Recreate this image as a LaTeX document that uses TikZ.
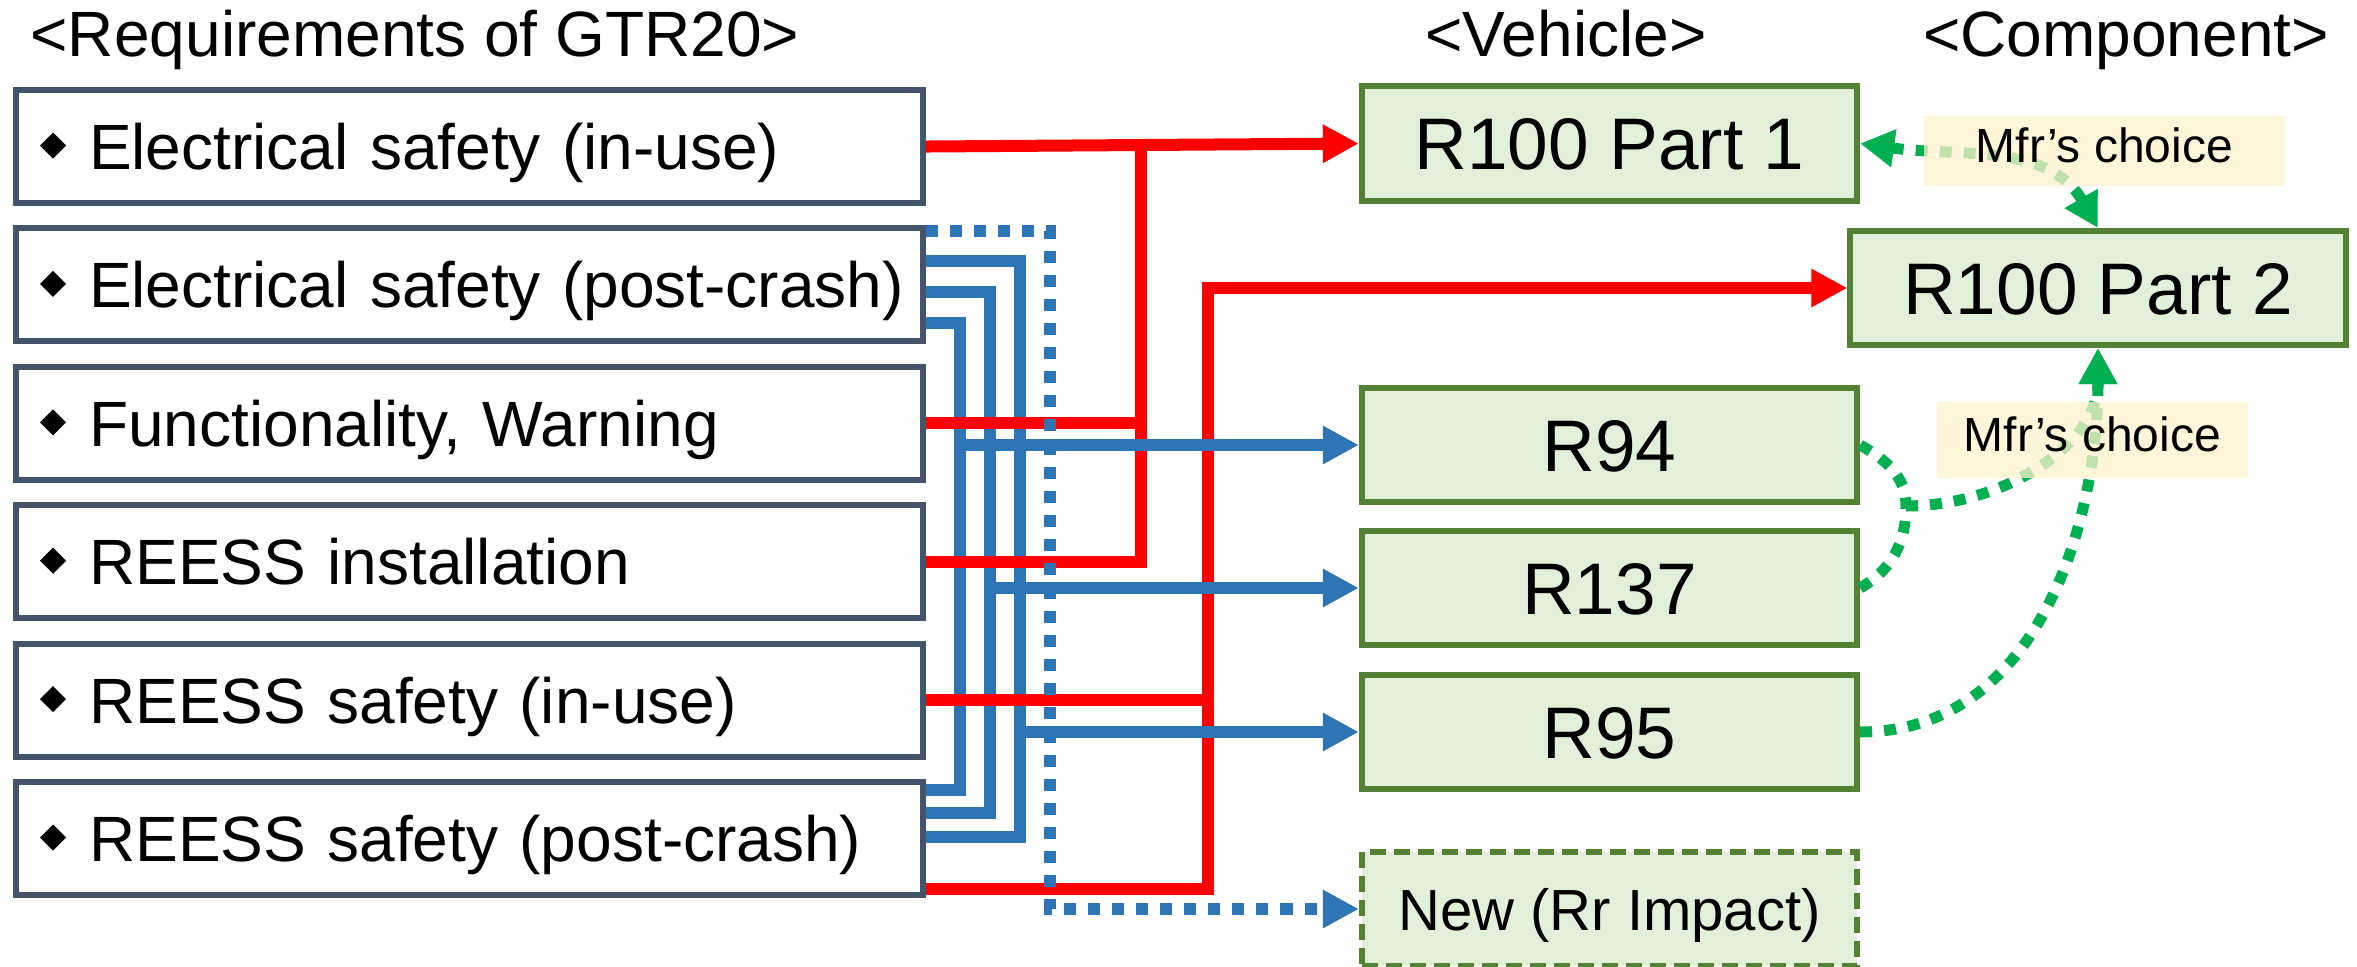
\documentclass[tikz,border=0pt]{standalone}
\usepackage{fontspec}
\setmainfont{Liberation Sans}
\usetikzlibrary{arrows.meta,calc}

\definecolor{reqedge}{HTML}{44546A}
\definecolor{vehedge}{HTML}{548235}
\definecolor{vehfill}{HTML}{E2F0D9}
\definecolor{linkred}{HTML}{FF0000}
\definecolor{linkblue}{HTML}{2E75B6}
\definecolor{choicegreen}{HTML}{00B050}
\definecolor{notefill}{HTML}{FFF2CC}

\newcommand{\reqfont}{\fontsize{0.64cm}{0.74cm}\selectfont}
\newcommand{\vehfont}{\fontsize{0.73cm}{0.84cm}\selectfont}
\newcommand{\newregfont}{\fontsize{0.58cm}{0.68cm}\selectfont}
\newcommand{\notefont}{\fontsize{0.48cm}{0.56cm}\selectfont}
% diamond bullet followed by the requirement text
\newcommand{\reqitem}[1]{\mbox{\raisebox{0.11cm}{\rotatebox{45}{\rule{0.184cm}{0.184cm}}}\hspace{0.23cm}#1}}

\begin{document}
\begin{tikzpicture}[x=0.01cm, y=0.01cm,
  reqbox/.style={draw=reqedge, line width=0.06cm, fill=white, anchor=north west,
    minimum height=1.13cm, text width=8.58cm, inner xsep=0.24cm, inner ysep=0pt,
    align=left, text height=0.46cm, text depth=0pt, font=\reqfont},
  vehbox/.style={draw=vehedge, fill=vehfill, line width=0.06cm, minimum width=4.95cm,
    minimum height=1.14cm, inner sep=0pt, text height=0.52cm, text depth=0pt, font=\vehfont},
  notebox/.style={fill=notefill, fill opacity=0.75, text opacity=1, inner sep=0pt,
    text height=0.34cm, text depth=0.12cm, font=\notefont},
  heading/.style={anchor=base, inner sep=0pt, font=\reqfont},
  redlink/.style={draw=linkred, line width=0.12cm},
  bluelink/.style={draw=linkblue, line width=0.12cm},
  bluedots/.style={draw=linkblue, line width=0.12cm, dash pattern=on 0.12cm off 0.12cm},
  greendots/.style={draw=choicegreen, line width=0.11cm, dash pattern=on 0.12cm off 0.12cm},
  arrowtip/.style={-{Triangle[length=0.36cm,width=0.36cm]}},
  bothtips/.style={{Triangle[length=0.34cm,width=0.36cm]}-{Triangle[length=0.34cm,width=0.36cm]}},
]
\useasboundingbox (0,0) rectangle (2357,-967);

% column headings
\node[heading] (hreq)  at (415,-57)  {<Requirements of GTR20>};
\node[heading] (hveh)  at (1566,-57) {<Vehicle>};
\node[heading] (hcomp) at (2126,-57) {<Component>};

% GTR20 requirements
\node[reqbox] (q1) at (13,-87)    {\reqitem{Electrical safety (in-use)}};
\node[reqbox] (q2) at (13,-225.4) {\reqitem{Electrical safety (post-crash)}};
\node[reqbox] (q3) at (13,-363.8) {\reqitem{Functionality, Warning}};
\node[reqbox] (q4) at (13,-502.2) {\reqitem{REESS installation}};
\node[reqbox] (q5) at (13,-640.6) {\reqitem{REESS safety (in-use)}};
\node[reqbox] (q6) at (13,-779)   {\reqitem{REESS safety (post-crash)}};

% regulations
\node[vehbox] (p1)   at (1609.5,-143.5) {R100 Part 1};
\node[vehbox] (p2)   at (2098,-288)     {R100 Part 2};
\node[vehbox] (r94)  at (1609.5,-445)   {R94};
\node[vehbox] (r137) at (1609.5,-588)   {R137};
\node[vehbox] (r95)  at (1609.5,-732)   {R95};
\node[vehbox, dash pattern=on 0.16cm off 0.08cm, font=\newregfont, text height=0.42cm]
  (rnew) at (1609.5,-909) {New (Rr Impact)};

% trunk positions
\coordinate (ta) at (1141,-143.5);
\coordinate (tb) at (1208,-288);
\coordinate (bxa) at (960,0);
\coordinate (bxb) at (990,0);
\coordinate (bxc) at (1020,0);
\coordinate (dotx) at (1050,0);
\coordinate (gj) at (1906,-506);

% blue buses between post-crash items
\draw[bluelink] ([yshift=-0.36cm]q2.north east) -- ([yshift=-0.36cm]q2.north east -| bxc)
  |- ([yshift=-0.58cm]q6.north east);
\draw[bluelink] ([yshift=-0.67cm]q2.north east) -- ([yshift=-0.67cm]q2.north east -| bxb)
  |- ([yshift=-0.34cm]q6.north east);
\draw[bluelink] ([yshift=-0.98cm]q2.north east) -- ([yshift=-0.98cm]q2.north east -| bxa)
  |- ([yshift=-0.11cm]q6.north east);

% red links
\draw[redlink, arrowtip] (q1.east) -- (p1.west);
\draw[redlink] (q4.east) -| (ta);
\draw[redlink] (q3.east) -- (q3.east -| ta);
\draw[redlink, arrowtip] ([yshift=0.09cm]q6.south east) -| (tb) -- (p2.west);
\draw[redlink] (q5.east) -- (q5.east -| tb);

% blue links to crash regulations
\draw[bluelink, arrowtip] (r94.west -| bxa) -- (r94.west);
\draw[bluelink, arrowtip] (r137.west -| bxb) -- (r137.west);
\draw[bluelink, arrowtip] (r95.west -| bxc) -- (r95.west);

% planned regulation
\draw[bluedots, arrowtip] ([yshift=-0.06cm]q2.north east) -- ([yshift=-0.06cm]q2.north east -| dotx)
  -- (rnew.west -| dotx) -- (rnew.west);

% manufacturer's choice links
\draw[greendots, bothtips] (p1.east) to[out=-8,in=120] (p2.north);
\draw[greendots] (r94.east) to[out=-30,in=90] (gj);
\draw[greendots] (r137.east) to[out=30,in=-90] (gj);
\draw[greendots, arrowtip] (gj) to[out=0,in=-90] (p2.south);
\draw[greendots, arrowtip] (r95.east) to[out=0,in=-90] (p2.south);

\node[notebox, minimum width=3.61cm, minimum height=0.70cm] (m1) at (2104.5,-151) {Mfr’s choice};
\node[notebox, minimum width=3.11cm, minimum height=0.76cm] (m2) at (2092.5,-440) {Mfr’s choice};
\end{tikzpicture}
\end{document}
